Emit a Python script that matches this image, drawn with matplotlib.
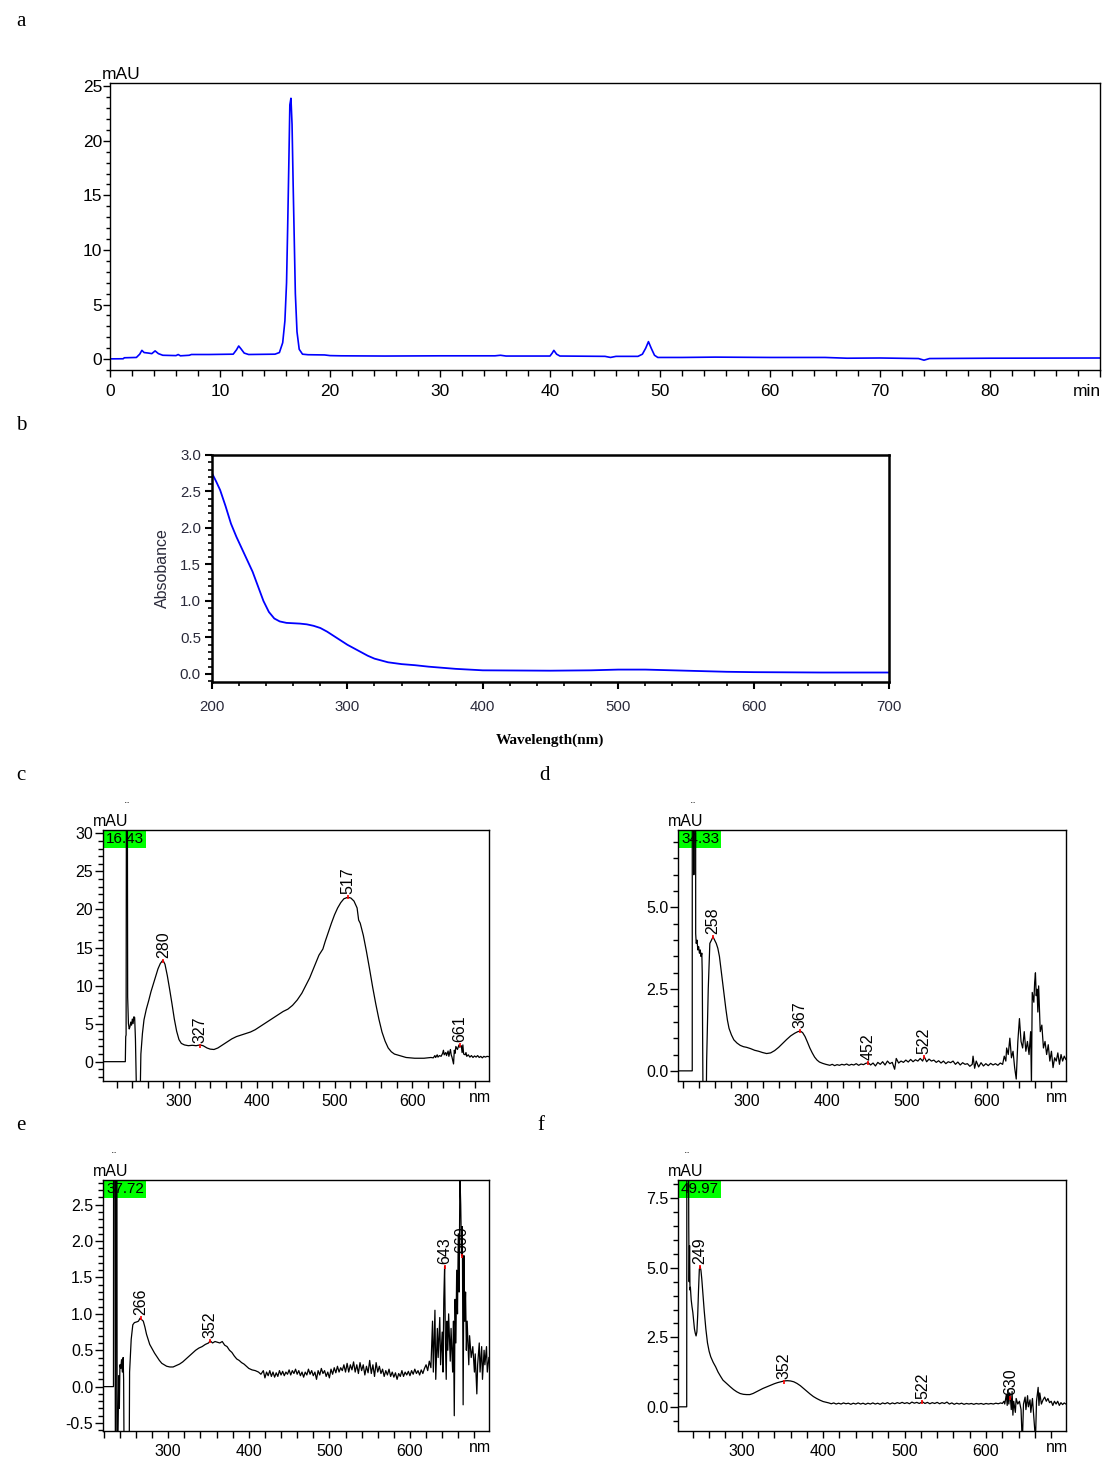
import numpy as np
import matplotlib
matplotlib.use("Agg")
import matplotlib.pyplot as plt
from matplotlib.ticker import MultipleLocator, FixedLocator, FixedFormatter
from matplotlib import font_manager

plt.rcParams["axes.unicode_minus"] = False

# ---------------- data ----------------
# (a) HPLC chromatogram, time [min], signal [mAU]
a_pts = [(0, 0.02), (1.2, 0.03), (1.3, 0.12), (2.4, 0.15), (2.7, 0.45), (2.9, 0.8), (3.1, 0.6),
         (3.5, 0.55), (3.8, 0.5), (4.1, 0.75), (4.4, 0.5), (4.8, 0.35), (6, 0.32), (6.2, 0.42),
         (6.4, 0.3), (7.2, 0.35), (7.4, 0.42), (9, 0.42), (11.2, 0.45), (11.5, 0.85), (11.7, 1.2),
         (11.9, 0.95), (12.2, 0.55), (12.6, 0.42), (15.0, 0.45), (15.4, 0.6), (15.7, 1.5),
         (15.9, 3.5), (16.05, 7.0), (16.15, 12), (16.25, 17.5), (16.35, 23.3), (16.45, 23.9),
         (16.55, 21.5), (16.65, 16), (16.75, 11), (16.85, 6), (17.0, 2.5), (17.2, 0.9),
         (17.5, 0.45), (18, 0.4), (19.5, 0.38), (20, 0.32), (21, 0.3), (25, 0.28), (30, 0.3),
         (35, 0.3), (35.5, 0.35), (36, 0.28), (40, 0.28), (40.2, 0.55), (40.35, 0.8), (40.6, 0.45),
         (40.9, 0.28), (45, 0.25), (45.5, 0.15), (46, 0.25), (48, 0.25), (48.4, 0.45), (48.7, 1.0),
         (48.95, 1.6), (49.2, 1.0), (49.5, 0.35), (49.8, 0.15), (52, 0.15), (55, 0.18), (60, 0.15),
         (65, 0.15), (67, 0.08), (70, 0.1), (73.5, 0.05), (74, -0.1), (74.5, 0.05), (80, 0.08),
         (90, 0.1)]
a_time = [p[0] for p in a_pts]
a_mau = [p[1] for p in a_pts]

# (b) UV-Vis absorbance spectrum
b_nm = [200, 203, 206, 210, 214, 218, 222, 226, 230, 234, 238, 242, 246, 250, 255, 260, 265, 270,
        275, 280, 285, 290, 295, 300, 305, 310, 315, 320, 330, 340, 350, 360, 370, 380, 390, 400,
        450, 480, 500, 520, 540, 560, 580, 600, 650, 700]
b_abs = [2.75, 2.64, 2.52, 2.3, 2.06, 1.88, 1.72, 1.56, 1.4, 1.2, 1.0, 0.85, 0.76, 0.72, 0.7, 0.695,
         0.69, 0.68, 0.66, 0.63, 0.58, 0.52, 0.46, 0.4, 0.35, 0.3, 0.25, 0.21, 0.16, 0.135, 0.12,
         0.1, 0.085, 0.07, 0.06, 0.05, 0.045, 0.05, 0.06, 0.06, 0.05, 0.04, 0.03, 0.025, 0.02, 0.02]

# (c) DAD spectrum at 16.43 min
c_pts = [(202, 0), (231, 0), (231.5, 3.3), (232, 3.5), (232.5, 45), (233.5, 45), (234, 8.5), (235, 5.0),
         (236, 4.3), (237, 4.6), (238, 5.2), (239, 4.8), (240, 5.6), (241, 5.0), (242, 5.9), (243, 5.8),
         (244, 3.0), (245.5, -5), (250, -5), (251, 1.0), (253, 3.7), (255, 5.5), (258, 6.9), (261, 8.0),
         (264, 9.2), (267, 10.2), (270, 11.2), (273, 12.2), (276, 12.9), (279, 13.3), (280, 13.2),
         (282, 12.8), (285, 11.3), (288, 9.5), (291, 7.6), (294, 5.6), (297, 4.0), (300, 2.9),
         (303, 2.4), (307, 2.2), (312, 2.1), (317, 2.15), (322, 2.1), (327, 2.2), (331, 2.1),
         (336, 1.8), (340, 1.65), (345, 1.6), (350, 1.8), (356, 2.2), (362, 2.6), (368, 3.0),
         (374, 3.3), (380, 3.5), (386, 3.7), (392, 3.9), (398, 4.2), (404, 4.6), (410, 5.0),
         (416, 5.4), (422, 5.8), (428, 6.2), (434, 6.6), (440, 6.9), (446, 7.4), (452, 8.1),
         (458, 9.0), (464, 10.2), (468, 11.0), (472, 12.0), (476, 13.0), (480, 14.0), (485, 14.8),
         (488, 15.8), (492, 17.0), (496, 18.2), (500, 19.3), (504, 20.2), (508, 20.9), (512, 21.4),
         (517, 21.6), (521, 21.5), (525, 21.1), (529, 20.2), (531, 18.6), (533, 18.2), (537, 16.6),
         (541, 14.5), (545, 12.2), (549, 9.8), (553, 7.6), (557, 5.6), (561, 3.9), (565, 2.7),
         (569, 1.8), (573, 1.3), (577, 1.0), (582, 0.85), (587, 0.7), (592, 0.55), (597, 0.5),
         (603, 0.45), (609, 0.45), (615, 0.45), (620, 0.5), (624, 0.55), (627, 0.5), (629, 0.8),
         (630, 0.55), (632, 0.9), (633, 0.6), (635, 0.8), (637, 0.7), (639, 1.1), (640, 1.5),
         (641, 0.9), (643, 1.2), (644, 0.8), (646, 1.4), (647, 0.7), (649, 1.6), (650, 0.9),
         (651, 0.6), (653, -0.3), (654, 1.5), (655, 1.1), (656, 2.0), (658, 1.6), (660, 2.2),
         (661, 1.9), (663, 2.1), (664, 1.2), (665, 2.2), (666, 1.0), (668, 0.9), (669, 1.2),
         (670, 0.7), (672, 0.9), (674, 0.6), (676, 0.8), (678, 0.55), (680, 0.75), (682, 0.6),
         (684, 0.8), (686, 0.55), (688, 0.7), (690, 0.5), (692, 0.7), (694, 0.6), (696, 0.7),
         (699, 0.65)]
c_peaks = [(280, 13.2, "280"), (327, 2.1, "327"), (517, 21.6, "517"), (661, 2.2, "661")]

# (d) DAD spectrum at 34.33 min
d_pts = [(213, 0), (232, 0), (232.2, 40), (233.5, 40), (234, 6), (234.5, 40), (236, 40), (236.3, 4.2),
         (237, 3.9), (238, 4.0), (239, 3.7), (240, 3.8), (241, 3.6), (242, 3.7), (243, 3.5), (244, 3.6),
         (244.5, 3.0), (245.5, -1), (249.5, -1), (250, 0.3), (252, 2.5), (254, 3.9), (256, 4.0),
         (258, 4.1), (260, 4.0), (262, 3.9), (264, 3.75), (266, 3.5), (268, 3.1), (270, 2.7),
         (272, 2.3), (274, 1.9), (276, 1.55), (278, 1.3), (281, 1.1), (284, 0.95), (288, 0.85),
         (292, 0.78), (296, 0.74), (300, 0.72), (305, 0.68), (310, 0.63), (315, 0.6), (320, 0.56),
         (325, 0.53), (330, 0.55), (335, 0.62), (340, 0.72), (345, 0.84), (350, 0.96), (355, 1.07),
         (360, 1.15), (364, 1.2), (367, 1.22), (370, 1.17), (373, 1.05), (376, 0.88), (379, 0.7),
         (382, 0.55), (385, 0.42), (388, 0.33), (391, 0.27), (395, 0.23), (399, 0.2), (404, 0.17),
         (407, 0.2), (410, 0.16), (413, 0.19), (416, 0.17), (419, 0.2), (422, 0.18), (425, 0.21),
         (428, 0.17), (431, 0.2), (434, 0.18), (437, 0.22), (440, 0.17), (443, 0.21), (446, 0.19),
         (449, 0.23), (452, 0.25), (455, 0.18), (458, 0.24), (461, 0.15), (464, 0.26), (467, 0.2),
         (470, 0.28), (473, 0.18), (476, 0.3), (479, 0.22), (482, 0.26), (485, 0.05), (487, 0.38),
         (490, 0.24), (493, 0.3), (496, 0.26), (499, 0.33), (502, 0.27), (505, 0.35), (508, 0.28),
         (511, 0.34), (514, 0.3), (517, 0.38), (520, 0.3), (522, 0.43), (525, 0.28), (528, 0.36),
         (531, 0.3), (534, 0.33), (537, 0.26), (540, 0.31), (543, 0.24), (546, 0.3), (549, 0.22),
         (552, 0.28), (555, 0.25), (558, 0.3), (561, 0.2), (564, 0.27), (567, 0.18), (570, 0.25),
         (573, 0.2), (576, 0.22), (579, 0.14), (582, 0.2), (583, 0.45), (585, 0.08), (587, 0.3),
         (590, 0.12), (593, 0.25), (596, 0.15), (599, 0.22), (602, 0.16), (605, 0.23), (608, 0.18),
         (611, 0.22), (614, 0.17), (617, 0.24), (620, 0.2), (622, 0.45), (624, 0.3), (625, 0.7),
         (627, 0.5), (629, 1.0), (631, 0.4), (633, 0.6), (635, 0.1), (637, -0.25), (639, 0.9),
         (641, 1.6), (643, 0.9), (645, 0.7), (647, 1.2), (649, 0.6), (651, 0.9), (653, 0.5),
         (655, 1.2), (656, -0.4), (657, 2.4), (659, 2.1), (660, 2.7), (661, 3.0), (662, 2.3),
         (663, 2.5), (664, 1.8), (665, 2.6), (667, 1.2), (669, 1.4), (671, 0.7), (673, 0.9),
         (675, 0.5), (677, 0.8), (679, 0.3), (681, 0.6), (683, 0.1), (685, 0.4), (687, 0.3),
         (689, 0.55), (691, 0.2), (693, 0.5), (695, 0.3), (697, 0.45), (699, 0.35)]
d_peaks = [(258, 4.1, "258"), (367, 1.22, "367"), (452, 0.25, "452"), (522, 0.43, "522")]

# (e) DAD spectrum at 37.72 min
e_pts = [(219, 0), (232, 0), (232.2, 5), (233.5, 5), (234.5, -2), (235.5, 5), (236.2, 5), (236.6, -2),
         (237.2, -1), (238, -0.35), (238.6, 0.15), (239.3, -0.3), (240, 0.3), (241, 0.25), (242, 0.37),
         (243, 0.2), (244, 0.4), (244.6, 0.1), (245.2, -1), (251.5, -1), (252, 0.2), (254, 0.65),
         (256, 0.85), (258, 0.88), (261, 0.89), (263, 0.9), (265, 0.94), (267, 0.92), (269, 0.9),
         (271, 0.82), (273, 0.72), (275, 0.65), (277, 0.58), (280, 0.52), (283, 0.46), (286, 0.41),
         (289, 0.36), (292, 0.32), (295, 0.3), (298, 0.28), (302, 0.27), (306, 0.27), (310, 0.29),
         (314, 0.31), (318, 0.34), (322, 0.38), (326, 0.42), (330, 0.46), (334, 0.5), (338, 0.53),
         (342, 0.55), (346, 0.58), (350, 0.6), (352, 0.63), (355, 0.6), (358, 0.62), (361, 0.61),
         (364, 0.6), (367, 0.62), (370, 0.57), (373, 0.55), (376, 0.5), (379, 0.47), (382, 0.42),
         (385, 0.38), (388, 0.36), (391, 0.33), (394, 0.31), (397, 0.28), (400, 0.25), (404, 0.23),
         (408, 0.22), (412, 0.2), (415, 0.17), (418, 0.22), (420, 0.12), (422, 0.2), (424, 0.15),
         (426, 0.22), (428, 0.14), (430, 0.2), (432, 0.13), (434, 0.19), (436, 0.14), (438, 0.22),
         (440, 0.16), (442, 0.21), (444, 0.15), (446, 0.2), (448, 0.17), (450, 0.23), (452, 0.16),
         (454, 0.22), (456, 0.18), (458, 0.24), (460, 0.17), (462, 0.22), (464, 0.15), (466, 0.2),
         (468, 0.13), (470, 0.2), (472, 0.16), (474, 0.24), (476, 0.17), (478, 0.22), (480, 0.15),
         (482, 0.2), (484, 0.1), (486, 0.22), (488, 0.16), (490, 0.25), (492, 0.18), (494, 0.22),
         (496, 0.14), (498, 0.2), (500, 0.12), (502, 0.24), (504, 0.17), (506, 0.26), (508, 0.19),
         (510, 0.28), (512, 0.2), (514, 0.26), (516, 0.22), (518, 0.3), (520, 0.2), (522, 0.32),
         (524, 0.2), (526, 0.3), (528, 0.23), (530, 0.34), (532, 0.2), (534, 0.3), (536, 0.18),
         (538, 0.33), (540, 0.22), (542, 0.3), (544, 0.16), (546, 0.28), (548, 0.19), (550, 0.36),
         (552, 0.18), (554, 0.3), (556, 0.14), (558, 0.33), (560, 0.2), (562, 0.28), (564, 0.18),
         (566, 0.24), (568, 0.14), (570, 0.22), (572, 0.16), (574, 0.24), (576, 0.14), (578, 0.2),
         (580, 0.13), (582, 0.19), (584, 0.1), (586, 0.18), (588, 0.14), (590, 0.22), (592, 0.14),
         (594, 0.2), (596, 0.16), (598, 0.21), (600, 0.15), (602, 0.22), (604, 0.17), (606, 0.24),
         (608, 0.18), (610, 0.22), (612, 0.16), (614, 0.23), (616, 0.18), (618, 0.25), (620, 0.3),
         (622, 0.22), (624, 0.35), (626, 0.26), (628, 0.9), (629, 0.2), (631, 1.05), (632, 0.1),
         (634, 0.8), (635, 0.4), (637, 0.95), (638, 0.3), (640, 0.75), (641, 0.2), (642, 1.2),
         (643, 1.65), (644, 0.6), (645, 0.1), (646, 0.9), (647, 0.5), (648, 1.0), (650, 0.35),
         (651, 0.8), (653, 0.2), (654, 0.9), (655, -0.4), (656, 1.2), (657, 0.6), (658, 1.6),
         (659, 1.0), (660, 2.1), (661, 1.3), (662, 2.9), (663, 2.5), (664, 1.8), (665, 2.2),
         (666, -0.25), (667, 1.8), (668, 0.9), (669, 1.3), (670, 0.5), (671, 0.9), (673, 0.3),
         (674, 0.7), (676, 0.4), (678, 0.55), (680, 0.2), (681, 0.45), (683, -0.1), (684, 0.3),
         (686, 0.6), (687, 0.2), (689, 0.55), (690, 0.1), (692, 0.5), (693, 0.3), (695, 0.55),
         (696, 0.2), (698, 0.4)]
e_peaks = [(266, 0.94, "266"), (352, 0.63, "352"), (643, 1.65, "643"), (664, 1.8, "660")]

# (f) DAD spectrum at 49.97 min
f_pts = [(222, 0), (232.5, 0), (232.7, 12), (234.5, 12), (235, 6.5), (235.5, 4.5), (236, 5.8),
         (236.5, 4.2), (237, 4.3), (238, 3.85), (239, 3.6), (240, 3.4), (241, 3.1), (242, 2.8),
         (243, 2.65), (244, 2.55), (245, 2.7), (246, 3.3), (247, 4.2), (248, 4.95), (249, 5.05),
         (250, 4.9), (251, 4.6), (252, 4.2), (253, 3.8), (254, 3.45), (256, 2.8), (258, 2.3),
         (260, 2.0), (262, 1.8), (265, 1.6), (268, 1.44), (271, 1.25), (274, 1.1), (277, 0.96),
         (280, 0.88), (283, 0.8), (286, 0.72), (290, 0.62), (294, 0.54), (298, 0.48), (302, 0.45),
         (306, 0.44), (310, 0.44), (314, 0.48), (318, 0.54), (322, 0.6), (326, 0.66), (331, 0.72),
         (336, 0.78), (340, 0.83), (344, 0.87), (348, 0.9), (352, 0.93), (356, 0.94), (360, 0.93),
         (364, 0.9), (368, 0.84), (372, 0.76), (376, 0.66), (380, 0.56), (384, 0.46), (388, 0.37),
         (392, 0.3), (396, 0.24), (400, 0.19), (404, 0.16), (407, 0.14), (410, 0.11), (413, 0.14),
         (416, 0.1), (419, 0.13), (422, 0.1), (425, 0.14), (428, 0.11), (431, 0.13), (434, 0.09),
         (437, 0.13), (440, 0.1), (443, 0.14), (446, 0.1), (449, 0.13), (452, 0.09), (455, 0.13),
         (458, 0.1), (461, 0.14), (464, 0.1), (467, 0.13), (470, 0.09), (473, 0.14), (476, 0.11),
         (479, 0.15), (482, 0.1), (485, 0.14), (488, 0.11), (491, 0.15), (494, 0.12), (497, 0.16),
         (500, 0.12), (503, 0.15), (506, 0.11), (509, 0.17), (512, 0.13), (515, 0.16), (518, 0.12),
         (522, 0.18), (525, 0.12), (528, 0.16), (531, 0.11), (534, 0.15), (537, 0.12), (540, 0.16),
         (543, 0.11), (546, 0.15), (549, 0.12), (552, 0.17), (555, 0.1), (558, 0.14), (561, 0.09),
         (564, 0.13), (567, 0.1), (570, 0.13), (573, 0.09), (576, 0.12), (579, 0.1), (582, 0.12),
         (585, 0.09), (588, 0.12), (591, 0.1), (594, 0.12), (597, 0.09), (600, 0.12), (603, 0.1),
         (606, 0.12), (609, 0.1), (612, 0.13), (615, 0.11), (618, 0.14), (620, 0.12), (622, 0.2),
         (623, 0.1), (625, 0.45), (626, 0.05), (627, 0.6), (628, 0.1), (629, 0.5), (630, 0.3),
         (631, -0.1), (632, 0.55), (633, -0.3), (634, 0.2), (636, -0.2), (637, 0.3), (639, 0.1),
         (641, 0.2), (643, -0.1), (644, -0.9), (645, -0.9), (646, 0.1), (648, 0.35), (649, -0.1),
         (651, 0.4), (652, 0.0), (654, 0.25), (655, -0.2), (657, 0.3), (658, -0.1), (660, -0.9),
         (661, -0.9), (662, 0.2), (664, 0.7), (665, 0.05), (666, 0.5), (668, 0.1), (670, 0.25),
         (672, 0.35), (674, 0.2), (676, 0.3), (678, 0.15), (680, 0.2), (682, 0.05), (684, 0.2),
         (686, 0.1), (688, 0.2), (690, 0.05), (692, 0.15), (694, 0.08), (696, 0.14), (698, 0.1),
         (700, 0.12)]
f_peaks = [(249, 5.04, "249"), (352, 0.9, "352"), (522, 0.18, "522"), (630, 0.3, "630")]

# ---------------- figure ----------------
W, H = 1102, 1463
fig = plt.figure(figsize=(W / 100, H / 100), dpi=100)
fig.patch.set_facecolor("white")

names = {f.name for f in font_manager.fontManager.ttflist}
narrow = "Liberation Sans Narrow" if "Liberation Sans Narrow" in names else "Liberation Sans"
sans = "Liberation Sans"


def rect(l, t, r, b):
    return [l / W, 1 - b / H, (r - l) / W, (b - t) / H]


def letter(x, y, s):
    fig.text(x / W, 1 - y / H, s, family="Liberation Serif", fontsize=15, ha="left", va="center")


# ----- panel a -----
ax = fig.add_axes(rect(110, 83, 1100, 370))
ax.plot(a_time, a_mau, color="#0000ff", lw=1.2)
ax.set_xlim(0, 90)
ax.set_ylim(-1.0, 25.3)
ax.xaxis.set_major_locator(FixedLocator(list(range(0, 100, 10))))
ax.xaxis.set_major_formatter(FixedFormatter([str(v) for v in range(0, 90, 10)] + [""]))
ax.xaxis.set_minor_locator(MultipleLocator(2))
ax.yaxis.set_major_locator(MultipleLocator(5))
ax.yaxis.set_minor_locator(MultipleLocator(1))
ax.tick_params(axis="y", which="major", length=5, width=1, pad=0.5)
ax.tick_params(axis="y", which="minor", length=3, width=1)
ax.tick_params(axis="x", which="major", length=5, width=1, pad=5)
ax.tick_params(axis="x", which="minor", length=4, width=1)
for lab in ax.get_xticklabels() + ax.get_yticklabels():
    lab.set_family(narrow)
    lab.set_fontsize(12.5)
for s in ax.spines.values():
    s.set_linewidth(1.0)
ax.annotate("min", xy=(1, 0), xycoords="axes fraction", xytext=(1, -14), textcoords="offset pixels",
            ha="right", va="top", family=narrow, fontsize=12.5)
ax.annotate("mAU", xy=(0, 1), xycoords="axes fraction", xytext=(-8, 1), textcoords="offset pixels",
            ha="left", va="bottom", family=narrow, fontsize=12.5)
letter(16, 22, "a")

# ----- panel b -----
ax = fig.add_axes(rect(212, 455, 889, 682))
ax.plot(b_nm, b_abs, color="#0000ff", lw=1.3)
ax.set_xlim(200, 700)
ax.set_ylim(-0.11, 3.0)
ax.xaxis.set_major_locator(MultipleLocator(100))
ax.xaxis.set_minor_locator(MultipleLocator(20))
ax.yaxis.set_major_locator(MultipleLocator(0.5))
ax.yaxis.set_minor_locator(MultipleLocator(0.1))
ax.yaxis.set_major_formatter(matplotlib.ticker.FormatStrFormatter("%.1f"))
ax.tick_params(which="major", length=5, width=1.5, labelsize=10.8, colors="black", labelcolor="#2a2a3a")
ax.tick_params(which="minor", length=3, width=1.2)
ax.tick_params(axis="x", pad=8)
ax.tick_params(axis="y", pad=3)
for lab in ax.get_xticklabels() + ax.get_yticklabels():
    lab.set_family(sans)
for s in ax.spines.values():
    s.set_linewidth(1.8)
fig.text(162 / W, 1 - 568 / H, "Absobance", rotation=90, ha="center", va="center",
         family=sans, fontsize=11.5, color="#2a2a3a")
fig.text(550 / W, 1 - 740 / H, "Wavelength(nm)", ha="center", va="center",
         family="Liberation Serif", fontweight="bold", fontsize=11)
letter(16, 425, "b")


# ----- panels c-f -----
def spec_panel(box, pts, xlim, ylim, ymaj, ymin, yfmt, rt, peaks, spike_x):
    ax = fig.add_axes(rect(*box))
    nm = [p[0] for p in pts]
    val = [p[1] for p in pts]
    ax.plot(nm, val, color="black", lw=0.9, zorder=3)
    ax.set_xlim(*xlim)
    ax.set_ylim(*ylim)
    ax.xaxis.set_major_locator(FixedLocator([300, 400, 500, 600]))
    ax.xaxis.set_minor_locator(MultipleLocator(20))
    ax.yaxis.set_major_locator(MultipleLocator(ymaj))
    ax.yaxis.set_minor_locator(MultipleLocator(ymin))
    ax.yaxis.set_major_formatter(matplotlib.ticker.FormatStrFormatter(yfmt))
    ax.tick_params(axis="y", which="major", length=6, width=1, pad=1)
    ax.tick_params(axis="y", which="minor", length=3.5, width=1)
    ax.tick_params(axis="x", which="both", length=5, width=1, pad=4)
    for lab in ax.get_xticklabels() + ax.get_yticklabels():
        lab.set_family(sans)
        lab.set_fontsize(11.5)
    for s in ax.spines.values():
        s.set_linewidth(1.0)
    ax.annotate("nm", xy=(1, 0), xycoords="axes fraction", xytext=(2, -9), textcoords="offset pixels",
                ha="right", va="top", family=sans, fontsize=11.5)
    ax.annotate("mAU", xy=(0, 1), xycoords="axes fraction", xytext=(-10, 1), textcoords="offset pixels",
                ha="left", va="bottom", family=sans, fontsize=11.5)
    ax.annotate("¨", xy=(spike_x, 1), xycoords=("data", "axes fraction"), xytext=(0, 16),
                textcoords="offset pixels", ha="center", va="bottom", family=sans, fontsize=9)
    ax.annotate(rt, xy=(0, 1), xycoords="axes fraction", xytext=(3, -2), textcoords="offset pixels",
                ha="left", va="top", family=sans, fontsize=11, zorder=2,
                bbox=dict(boxstyle="square,pad=0.12", fc="#00ff00", ec="none"))
    for x, y, txt in peaks:
        ax.plot([x], [y], marker="|", color="red", ms=3, mew=1.2, zorder=4)
        ax.annotate(txt, xy=(x, y), xytext=(0, 3), textcoords="offset pixels", rotation=90,
                    ha="center", va="bottom", family=sans, fontsize=11.5)
    return ax


spec_panel((103, 830, 489, 1081), c_pts, (202.3, 698.6), (-2.54, 30.44), 5, 1, "%d",
           "16.43", c_peaks, 233)
spec_panel((678, 830, 1066, 1081), d_pts, (214.2, 699.2), (-0.31, 7.37), 2.5, 0.5, "%.1f",
           "34.33", d_peaks, 233)
spec_panel((103, 1180, 489, 1431), e_pts, (219, 698.1), (-0.61, 2.84), 0.5, 0.1, "%.1f",
           "37.72", e_peaks, 233)
spec_panel((678, 1180, 1066, 1431), f_pts, (221.8, 698.2), (-0.87, 8.16), 2.5, 0.5, "%.1f",
           "49.97", f_peaks, 233)
letter(16, 775, "c")
letter(539, 775, "d")
letter(16, 1125, "e")
letter(537, 1125, "f")

fig.savefig("out.png", dpi=100)
